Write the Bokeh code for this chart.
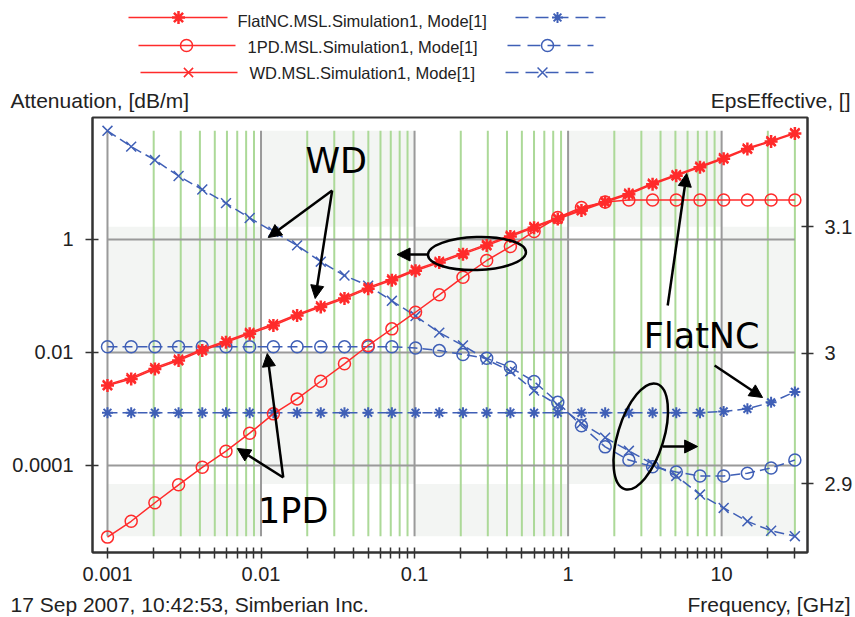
import math
from bokeh.plotting import figure
from bokeh.models import Range1d, LinearAxis, FixedTicker, Label, Arrow, NormalHead
from bokeh.layouts import column
from bokeh.core.properties import value
from bokeh.embed import file_html
from bokeh.resources import INLINE

# ---------------- data ----------------
freq_ghz = [0.001, 0.001427, 0.002036, 0.002905, 0.004144, 0.005913, 0.008437,
            0.01204, 0.01718, 0.0245, 0.03496, 0.04988, 0.07117, 0.1015, 0.1449,
            0.2067, 0.295, 0.4209, 0.6005, 0.8568, 1.222, 1.744, 2.489, 3.551,
            5.066, 7.229, 10.31, 14.72, 21.0, 30.0]

# Attenuation, dB/m (left log axis)
att_flatnc = [0.0026, 0.0034, 0.0051, 0.0072, 0.0108, 0.0152, 0.0214, 0.030, 0.045,
              0.064, 0.090, 0.135, 0.19, 0.28, 0.39, 0.55, 0.78, 1.13, 1.62, 2.3,
              3.25, 4.55, 6.3, 9.5, 13.4, 19.0, 26.8, 40.0, 54.0, 75.0]
att_1pd = [5.4e-6, 1.03e-5, 2.19e-5, 4.55e-5, 9.3e-5, 1.79e-4, 3.73e-4, 8.2e-4, 1.51e-3,
           3.1e-3, 6.3e-3, 1.33e-2, 2.62e-2, 5.16e-2, 0.105, 0.215, 0.425, 0.75, 1.39,
           2.45, 3.68, 4.6, 5.0, 5.0, 5.0, 5.0, 5.0, 5.0, 5.0, 5.0]
att_wd = [0.0027, 0.0036, 0.0054, 0.0076, 0.0114, 0.016, 0.0226, 0.032, 0.047,
          0.067, 0.095, 0.142, 0.2, 0.295, 0.41, 0.58, 0.82, 1.19, 1.7, 2.42,
          3.4, 4.8, 6.6, 9.9, 14.0, 19.8, 28.0, 41.5, 56.0, 78.0]

# EpsEffective (right linear axis)
eps_flatnc = [2.954, 2.954, 2.954, 2.954, 2.954, 2.954, 2.954, 2.954, 2.954, 2.954,
              2.954, 2.954, 2.954, 2.954, 2.954, 2.954, 2.954, 2.954, 2.954, 2.954,
              2.954, 2.954, 2.954, 2.954, 2.954, 2.954, 2.955, 2.957, 2.962, 2.970]
eps_1pd = [3.005, 3.005, 3.005, 3.005, 3.005, 3.005, 3.005, 3.005, 3.005, 3.005,
           3.005, 3.005, 3.005, 3.004, 3.002, 2.999, 2.996, 2.989, 2.978, 2.962,
           2.944, 2.928, 2.918, 2.913, 2.909, 2.906, 2.906, 2.908, 2.912, 2.918]
eps_wd = [3.178, 3.165, 3.154, 3.141, 3.130, 3.119, 3.107, 3.096, 3.085, 3.072,
          3.061, 3.053, 3.041, 3.029, 3.016, 3.006, 2.995, 2.986, 2.971, 2.960,
          2.946, 2.935, 2.925, 2.915, 2.906, 2.892, 2.882, 2.872, 2.865, 2.861]

series_labels = ["FlatNC.MSL.Simulation1, Mode[1]",
                 "1PD.MSL.Simulation1, Mode[1]",
                 "WD.MSL.Simulation1, Mode[1]"]
series_markers = ["asterisk", "circle", "x"]

x_major_ticks = [0.001, 0.01, 0.1, 1, 10]
x_major_labels = ["0.001", "0.01", "0.1", "1", "10"]
x_minor_ticks = [m * 10.0 ** e for e in range(-3, 2) for m in range(2, 10) if m * 10.0 ** e <= 30.0001]
att_ticks = [0.0001, 0.01, 1]
att_labels = ["0.0001", "0.01", "1"]
eps_ticks = [2.9, 3.0, 3.1]
eps_labels = ["2.9", "3", "3.1"]

# ---------------- styles ----------------
RED = "#ff2b2b"
BLUE = "#3f5fb6"
GREEN = "#acd998"
GRAY = "#9a9a9a"
SHADE = "#f3f5f3"
INK = "#222222"
FONT = "Liberation Sans"
ANN_FONT = "DejaVu Sans"

W = 855
TOP_H = 112
MAIN_H = 480
BOT_H = 25
FW, FH = 716, 435
X0, X1 = 7.988e-4, 36.25
Y0, Y1 = 2.885e-6, 144.3
E0, E1 = 2.8489, 3.189

red_marker_style = {"asterisk": dict(size=13, line_width=2.5),
                    "circle": dict(size=12, line_width=1.5),
                    "x": dict(size=13, line_width=1.5)}
blue_marker_style = {"asterisk": dict(size=11, line_width=2),
                     "circle": dict(size=12, line_width=1.5),
                     "x": dict(size=14, line_width=1.5)}


def strip(height):
    s = figure(width=W, height=height, x_range=Range1d(0, W), y_range=Range1d(height, 0),
               x_axis_location=None, y_axis_location=None, min_border=0, frame_align=False,
               output_backend="svg", toolbar_location=None, title=None)
    s.grid.visible = False
    s.outline_line_color = None
    return s


# ---------------- top strip: legend + axis titles ----------------
t = strip(TOP_H)
row_y = [17, 45, 72]
row_text_y = [20, 46, 72]
red_x0 = [128, 138, 140]
red_x1 = [227, 235, 237]
red_mx = [178, 186, 188]
lab_x = [237, 247, 249]
blue_x0 = [515, 507, 505]
blue_x1 = [605, 593, 593]
blue_mx = [557, 547, 542]
for i, (lab, mk) in enumerate(zip(series_labels, series_markers)):
    t.line([red_x0[i], red_x1[i]], [row_y[i], row_y[i]], line_color=RED, line_width=1.5)
    t.scatter([red_mx[i]], [row_y[i]], marker=mk, line_color=RED, fill_color=None,
              **red_marker_style[mk])
    t.line([blue_x0[i], blue_x1[i]], [row_y[i], row_y[i]], line_color=BLUE, line_width=1.5,
           line_dash="13 7")
    t.scatter([blue_mx[i]], [row_y[i]], marker=mk, line_color=BLUE, fill_color=None,
              **blue_marker_style[mk])
t.text(x=lab_x, y=row_text_y, text=series_labels, text_font=value(FONT),
       text_font_size=value("16.5px"), text_align="left", text_baseline="middle", text_color=INK)
t.text(x=[10], y=[100], text=["Attenuation, [dB/m]"], text_font=value(FONT),
       text_font_size=value("21px"), text_align="left", text_baseline="middle", text_color=INK)
t.text(x=[850], y=[100], text=["EpsEffective, []"], text_font=value(FONT),
       text_font_size=value("21px"), text_align="right", text_baseline="middle", text_color=INK)

# ---------------- bottom strip: footer ----------------
b = strip(BOT_H)
b.text(x=[10], y=[12], text=["17 Sep 2007, 10:42:53, Simberian Inc."], text_font=value(FONT),
       text_font_size=value("21px"), text_align="left", text_baseline="middle", text_color=INK)
b.text(x=[850], y=[12], text=["Frequency, [GHz]"], text_font=value(FONT),
       text_font_size=value("21px"), text_align="right", text_baseline="middle", text_color=INK)

# ---------------- main plot ----------------
p = figure(width=W, height=MAIN_H, x_axis_type="log", y_axis_type="log",
           x_range=Range1d(X0, X1), y_range=Range1d(Y0, Y1), frame_align=False,
           output_backend="svg", toolbar_location=None, title=None,
           min_border_left=92, min_border_right=47, min_border_top=5, min_border_bottom=40)
p.extra_y_ranges = {"eps": Range1d(E0, E1)}
p.grid.visible = False
p.outline_line_color = "#333333"
p.outline_line_width = 2
p.background_fill_color = "white"
p.border_fill_color = "white"

# checkerboard shading
col_edges = [freq_ghz[0]] + x_major_ticks[1:] + [freq_ghz[-1]]
row_edges = [min(eps_wd)] + eps_ticks + [max(eps_wd)]
ql, qr, qb, qt = [], [], [], []
for r in range(len(row_edges) - 1):
    for c in range(len(col_edges) - 1):
        if (r + c) % 2 == 0:
            ql.append(col_edges[c]); qr.append(col_edges[c + 1])
            qb.append(row_edges[r]); qt.append(row_edges[r + 1])
p.quad(left=ql, right=qr, bottom=qb, top=qt, y_range_name="eps",
       fill_color=SHADE, line_color=None)

# grid lines limited to the data extent
g_lo, g_hi = min(eps_wd), max(eps_wd)
p.segment(x0=x_minor_ticks, x1=x_minor_ticks, y0=[g_lo] * len(x_minor_ticks),
          y1=[g_hi] * len(x_minor_ticks), y_range_name="eps", line_color=GREEN, line_width=2)
p.segment(x0=x_major_ticks, x1=x_major_ticks, y0=[g_lo] * len(x_major_ticks),
          y1=[g_hi] * len(x_major_ticks), y_range_name="eps", line_color=GRAY, line_width=2)
p.segment(x0=[freq_ghz[0]] * len(att_ticks), x1=[freq_ghz[-1]] * len(att_ticks),
          y0=att_ticks, y1=att_ticks, line_color=GRAY, line_width=2)

# curves
for eps, mk in zip([eps_flatnc, eps_1pd, eps_wd], series_markers):
    p.line(freq_ghz, eps, y_range_name="eps", line_color=BLUE, line_width=1.5, line_dash="10 5")
    p.scatter(freq_ghz, eps, y_range_name="eps", marker=mk, line_color=BLUE, fill_color=None,
              **blue_marker_style[mk])
for att, mk in zip([att_flatnc, att_1pd, att_wd], series_markers):
    p.line(freq_ghz, att, line_color=RED, line_width=1.5)
    p.scatter(freq_ghz, att, marker=mk, line_color=RED, fill_color=None, **red_marker_style[mk])

# axes
p.xaxis.ticker = FixedTicker(ticks=x_major_ticks, minor_ticks=x_minor_ticks)
p.xaxis.major_label_overrides = dict(zip(x_major_ticks, x_major_labels))
p.yaxis.ticker = FixedTicker(ticks=att_ticks, minor_ticks=[])
p.yaxis.major_label_overrides = dict(zip(att_ticks, att_labels))
eps_axis = LinearAxis(y_range_name="eps", ticker=FixedTicker(ticks=eps_ticks, minor_ticks=[]),
                      major_label_overrides=dict(zip(eps_ticks, eps_labels)))
p.add_layout(eps_axis, "right")

for ax in p.axis:
    ax.axis_line_color = "#333333"
    ax.axis_line_width = 2
    ax.major_tick_line_color = "#333333"
    ax.minor_tick_line_color = "#333333"
    ax.major_tick_line_width = 1.5
    ax.minor_tick_line_width = 1.5
    ax.major_label_text_font = FONT
    ax.major_label_text_font_size = "20px"
    ax.major_label_text_color = INK
p.xaxis.major_tick_in = 5
p.xaxis.major_tick_out = 6
p.xaxis.minor_tick_in = 5
p.xaxis.minor_tick_out = 6
p.xaxis.major_label_standoff = 8
p.yaxis.major_tick_in = 6
p.yaxis.major_tick_out = 7
p.yaxis.major_label_standoff = 12
eps_axis.major_tick_in = 6
eps_axis.major_tick_out = 6
eps_axis.major_label_standoff = 11


# annotation positions are given in frame pixels (from the frame's top-left corner)
def fx(px):
    return 10 ** (math.log10(X0) + px / FW * (math.log10(X1) - math.log10(X0)))


def fy(py):
    return 10 ** (math.log10(Y1) - py / FH * (math.log10(Y1) - math.log10(Y0)))


arrows = [((240, 73), (176, 120)), ((240, 73), (223, 181)),
          ((191, 360), (175, 236)), ((191, 360), (145, 331)),
          ((335, 137), (305, 137)), ((576, 188), (595, 56)),
          ((623, 248), (671, 280)), ((571, 329), (606, 329))]
for (sx, sy), (ex, ey) in arrows:
    p.add_layout(Arrow(end=NormalHead(size=13, fill_color="black", line_color="black", line_width=1),
                       x_start=fx(sx), y_start=fy(sy), x_end=fx(ex), y_end=fy(ey),
                       line_color="black", line_width=2.5))

p.ellipse(x=[fx(385), fx(549)], y=[fy(136), fy(319)], width=[98, 110], height=[33, 46],
          angle=[0.03, math.radians(73)], width_units="screen", height_units="screen",
          fill_color=None, line_color="black", line_width=2.5)

for txt, (px, py) in [("WD", (244, 43)), ("1PD", (201, 393)), ("FlatNC", (610, 218))]:
    p.add_layout(Label(x=fx(px), y=fy(py), text=txt, text_font=ANN_FONT, text_font_size="35px",
                       text_align="center", text_baseline="middle", text_color="black"))

layout = column(t, p, b)
open("out.html", "w").write(file_html(layout, INLINE))
